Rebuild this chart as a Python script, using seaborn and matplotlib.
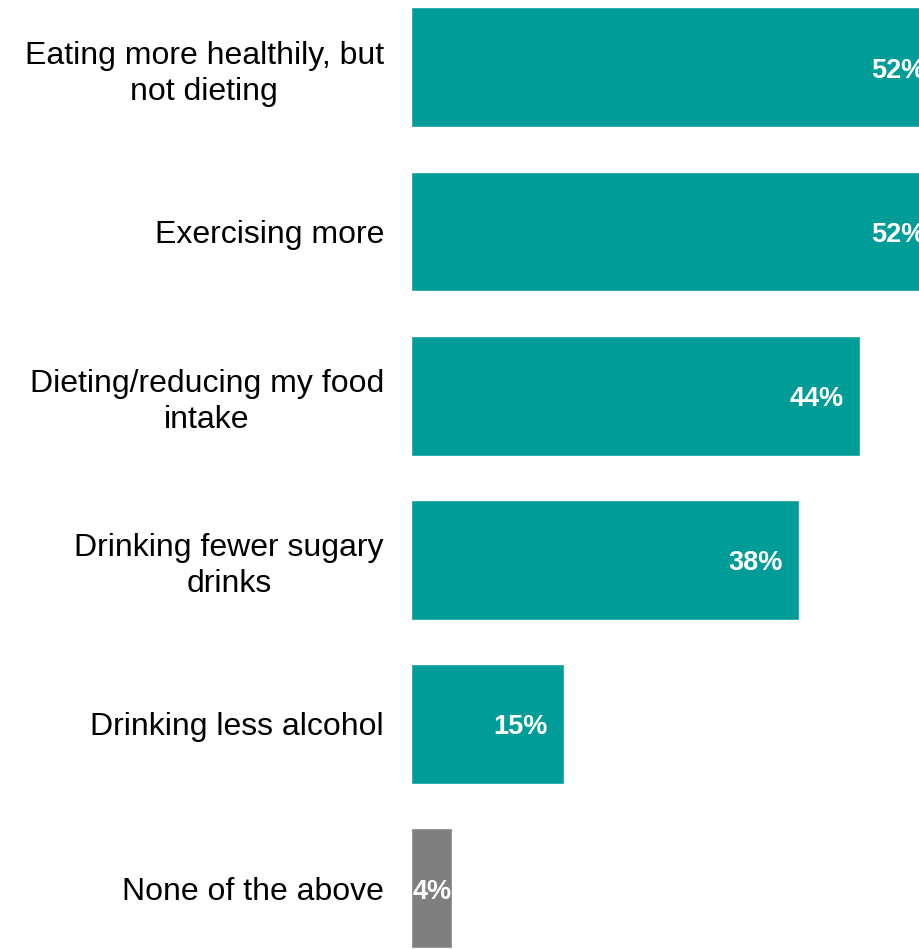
import matplotlib
matplotlib.use("Agg")
import matplotlib.pyplot as plt
import seaborn as sns
import pandas as pd

categories = ["Eating more healthily, but\nnot dieting", "Exercising more",
              "Dieting/reducing my food\nintake", "Drinking fewer sugary\ndrinks",
              "Drinking less alcohol", "None of the above"]
values = [52, 52, 44, 38, 15, 4]
labels = ["52%", "52%", "44%", "38%", "15%", "4%"]
colors = ["#009C98", "#009C98", "#009C98", "#009C98", "#009C98", "#7F7F7F"]

sns.set_style("white")
plt.rcParams['font.family'] = ['Liberation Sans', 'DejaVu Sans']

df = pd.DataFrame({"cat": categories, "val": values})

fig = plt.figure(figsize=(9.19, 9.49), dpi=100)
ax = fig.add_axes([411/919, 0, 1 - 411/919, 1])
sns.barplot(data=df, y="cat", x="val", hue="cat", palette=colors, legend=False,
            orient="h", width=0.73, saturation=1, ax=ax)
ax.set_xlim(0, 49.8)
ax.set_ylim(5.371, -0.41)
ax.set_xlabel("")
ax.set_ylabel("")
ax.set_xticks([])
for s in ax.spines.values():
    s.set_visible(False)
ax.tick_params(axis='y', length=0, pad=19.5, labelsize=23, labelcolor='black')
for t in ax.get_yticklabels():
    t.set_multialignment('center')
    t.set_linespacing(1.27)

for i, (v, lab) in enumerate(zip(values, labels)):
    if v < 10:
        ax.annotate(lab, xy=(0, i), xytext=(1.5, -2.5), textcoords='offset points',
                    ha='left', va='center', color='white', fontsize=19.5,
                    fontweight='bold', annotation_clip=False)
    else:
        ax.annotate(lab, xy=(v, i), xytext=(-11.5, -2.5), textcoords='offset points',
                    ha='right', va='center', color='white', fontsize=19.5,
                    fontweight='bold', annotation_clip=False)

fig.savefig("out.png", dpi=100)
